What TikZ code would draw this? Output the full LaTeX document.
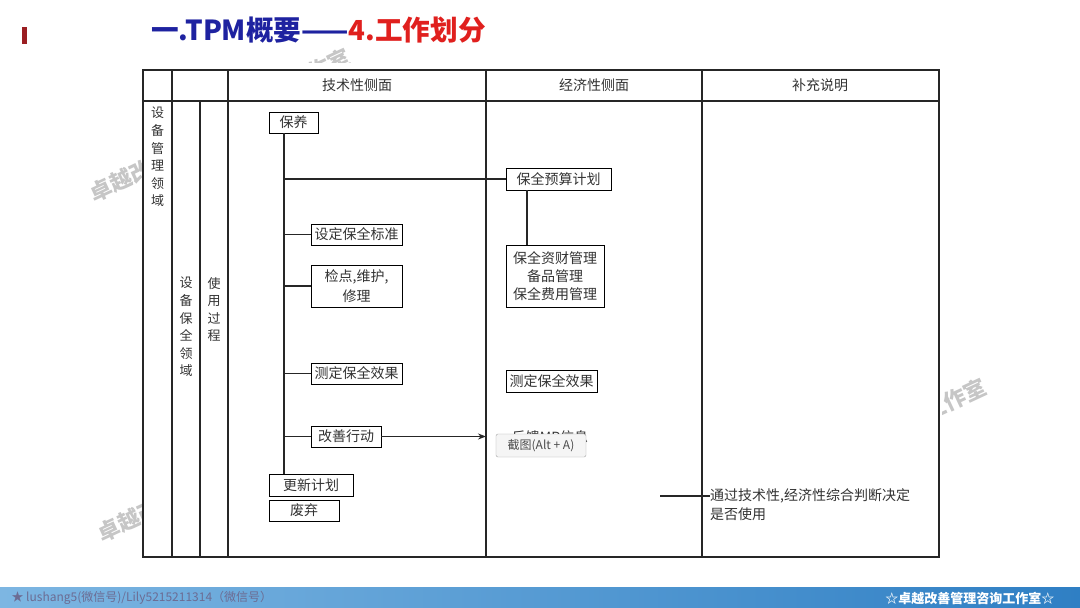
\documentclass[tikz,border=0pt]{standalone}
\usepackage{fontspec}
\setmainfont{Noto Sans CJK SC}
\usetikzlibrary{arrows.meta,calc}
\definecolor{titleblue}{HTML}{1E22A0}
\definecolor{titlered}{HTML}{E0201E}
\definecolor{barred}{HTML}{9B1E22}
\definecolor{footdark}{HTML}{2F7FC4}
\definecolor{footlight}{HTML}{D9EBF7}
\definecolor{footleft}{HTML}{7DB6E2}

\begin{document}
\begin{tikzpicture}[x=1pt, y=-1pt, >=Stealth,
    box/.style={draw, line width=0.9pt, inner sep=1pt, align=center,
        font=\fontsize{14}{18}\selectfont, text=black!80},
    vtext/.style={align=center, anchor=north, inner sep=0pt,
        font=\fontsize{13}{17.6}\selectfont, text=black!80},
    head/.style={font=\fontsize{14}{16}\selectfont, text=black!80},
    wmark/.style={text=gray, opacity=0.45, rotate=25,
        font=\fontsize{22}{22}\selectfont\bfseries},
    tline/.style={line width=1.1pt, black!85}]
    \useasboundingbox (0,0) rectangle (1080,608);

    % 水印 (被表格图片遮住一部分)
    \node[wmark, anchor=west] (wm1) at (88,196) {卓越改善管理咨询工作室};
    \node[wmark, anchor=west] (wm2) at (96,536) {卓越改善管理咨询工作室};
    \node[wmark, anchor=east] (wm3) at (988,384) {卓越改善管理咨询工作室};
    \node[wmark, anchor=east] (wm4) at (352,54) {管理咨询工作室};
    \fill[white] (143,63) rectangle (942,562);

    % 标题
    \fill[barred] (22,27) rectangle (27,44);
    \node[anchor=west, inner sep=0pt, font=\fontsize{27.6}{28}\selectfont\bfseries]
        (title) at (151,30) {\textcolor{titleblue}{一.TPM概要——}\textcolor{titlered}{4.工作划分}};

    % 表格
    \draw[line width=2pt, black!85] (143,70) rectangle (939,557);
    \draw[tline, line width=1.4pt] (143,101) -- (939,101);
    \draw[tline] (172,70) -- (172,557);
    \draw[tline] (200,101) -- (200,557);
    \draw[tline] (228,70) -- (228,557);
    \draw[tline] (486,70) -- (486,557);
    \draw[tline] (702,70) -- (702,557);
    \coordinate (col3) at (486,0);

    \node[head] (h1) at (357,85) {技术性侧面};
    \node[head] (h2) at (594,85) {经济性侧面};
    \node[head] (h3) at (820,85) {补充说明};

    % 左侧竖排文字
    \node[vtext] (area1) at (157.5,107) {设\\备\\管\\理\\领\\域};
    \node[vtext] (area2) at (186,277) {设\\备\\保\\全\\领\\域};
    \node[vtext] (area3) at (214,277) {使\\用\\过\\程};

    % 技术性侧面
    \node[box, minimum width=49, minimum height=21] (baoyang) at (293.5,122.5) {保养};
    \node[box, minimum width=91, minimum height=21] (biaozhun) at (356.5,234.5) {设定保全标准};
    \node[box, minimum width=91, minimum height=42, font=\fontsize{14}{20}\selectfont]
        (jiandian) at (356.5,286) {检点,维护,\\修理};
    \node[box, minimum width=91, minimum height=21] (xiaoguo1) at (356.5,373.5) {测定保全效果};
    \node[box, minimum width=70, minimum height=21] (gaishan) at (346,436.5) {改善行动};
    \node[box, minimum width=84, minimum height=22] (gengxin) at (311,485) {更新计划};
    \node[box, minimum width=70, minimum height=21] (feiqi) at (304,510.5) {废弃};

    % 经济性侧面
    \node[box, minimum width=105, minimum height=22] (yusuan) at (558.5,179) {保全预算计划};
    \node[box, minimum width=98, minimum height=62] (zicai) at (555,276) {保全资财管理\\备品管理\\保全费用管理};
    \node[box, minimum width=91, minimum height=22] (xiaoguo2) at (551.5,381) {测定保全效果};
    \node[head] (fankui) at (550,437) {反馈MP信息};
    \node[draw=gray!70, fill=gray!8, rounded corners=2pt, minimum width=90, minimum height=23,
        inner sep=0pt, text=black!70, font=\fontsize{12}{12}\selectfont]
        (jietu) at (541,445.5) {截图(Alt + A)};

    % 补充说明
    \node[anchor=north west, align=left, inner sep=0pt, text=black!80,
        font=\fontsize{14}{19}\selectfont] (note) at (710,488) {通过技术性,经济性综合判断决定\\是否使用};
    \coordinate (noteL) at (660,496);

    % 连线
    \coordinate (trunkTop) at (284,133);
    \coordinate (trunkBot) at (284,474);
    \coordinate (ysx) at (527,0);
    \draw[tline] (trunkTop) -- (trunkBot);
    \draw[tline] (trunkTop |- yusuan.west) -- (yusuan.west);
    \draw[tline] (yusuan.south -| ysx) -- (zicai.north -| ysx);
    \draw[tline] (trunkTop |- biaozhun.west) -- (biaozhun.west);
    \draw[tline] (trunkTop |- jiandian.west) -- (jiandian.west);
    \draw[tline] (trunkTop |- xiaoguo1.west) -- (xiaoguo1.west);
    \draw[tline] (trunkTop |- gaishan.west) -- (gaishan.west);
    \draw[tline, -{Stealth[length=8pt, width=6pt]}] (gaishan.east) -- (gaishan.east -| col3);
    \draw[tline] (noteL) -- (noteL -| note.west);

    % 页脚
    \shade[left color=footleft, middle color=footlight, right color=footdark]
        (0,587) rectangle (1080,608);
    \node[anchor=west, text=gray!85!blue, font=\fontsize{12}{12}\selectfont]
        (foot1) at (8,598) {★ lushang5(微信号)/Lily5215211314（微信号）};
    \node[anchor=east, text=white, font=\fontsize{13}{13}\selectfont\bfseries]
        (foot2) at (1058,598) {☆卓越改善管理咨询工作室☆};
\end{tikzpicture}
\end{document}
